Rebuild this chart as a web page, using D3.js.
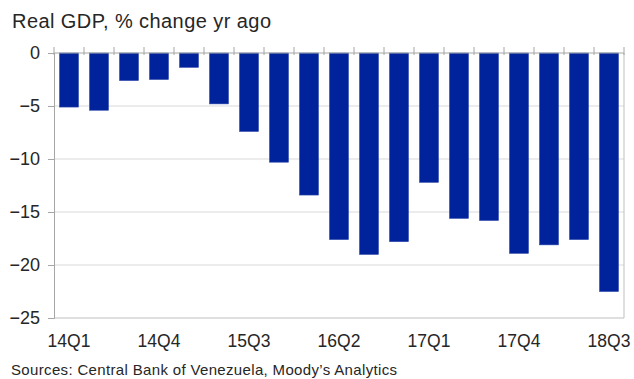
<!DOCTYPE html>
<html><head><meta charset="utf-8">
<script src="https://cdn.jsdelivr.net/npm/d3@7"></script>
<style>
html,body{margin:0;padding:0;background:#fff;}
svg{display:block;font-family:"Liberation Sans",Arial,sans-serif;}
</style></head>
<body>
<svg id="c" width="634" height="379"></svg>
<script>
const quarters = ["14Q1","14Q2","14Q3","14Q4","15Q1","15Q2","15Q3","15Q4","16Q1","16Q2","16Q3","16Q4","17Q1","17Q2","17Q3","17Q4","18Q1","18Q2","18Q3"];
const gdpChange = [-5.1,-5.4,-2.6,-2.5,-1.35,-4.8,-7.4,-10.3,-13.4,-17.6,-19.0,-17.8,-12.2,-15.6,-15.8,-18.9,-18.1,-17.6,-22.5];
const xTickLabels = ["14Q1","14Q4","15Q3","16Q2","17Q1","17Q4","18Q3"];
const yTicks = [0,-5,-10,-15,-20,-25];
const titleText = "Real GDP, % change yr ago";
const sourceText = "Sources: Central Bank of Venezuela,  Moody\u2019s Analytics";

const svg = d3.select("#c");
const L = 54, R = 624, T = 53, B = 318;
const x = d3.scaleBand().domain(quarters).range([L, R]).paddingInner(0.37).paddingOuter(0.185);
const y = d3.scaleLinear().domain([-25, 0]).range([B, T]);

// gridlines
svg.append("g").selectAll("line").data(yTicks.filter(v => v !== 0 && v !== -25)).join("line")
  .attr("x1", L).attr("x2", R).attr("y1", d => y(d)).attr("y2", d => y(d))
  .attr("stroke", "#d9d9d9").attr("stroke-width", 1);

// bars
svg.append("g").selectAll("rect").data(quarters).join("rect")
  .attr("x", (q) => x(q))
  .attr("width", x.bandwidth())
  .attr("y", y(0))
  .attr("height", (q, i) => y(gdpChange[i]) - y(0))
  .attr("fill", "#00239b")
  .attr("stroke", "#2a45a8").attr("stroke-width", 0.6);

// plot border (bottom, right)
svg.append("line").attr("x1", L).attr("x2", R).attr("y1", B).attr("y2", B).attr("stroke", "#bfbfbf");
svg.append("line").attr("x1", R).attr("x2", R).attr("y1", T).attr("y2", B).attr("stroke", "#bfbfbf");

// y axis
const yAxis = d3.axisLeft(y).tickValues(yTicks).tickSize(6).tickPadding(8).tickFormat(d3.format("d"));
const gy = svg.append("g").attr("transform", `translate(${L},0)`).call(yAxis);
gy.select(".domain").attr("stroke", "#a6a6a6");
gy.selectAll(".tick line").attr("stroke", "#a6a6a6");
gy.selectAll(".tick text").attr("font-size", 18).attr("fill", "#262626").attr("font-family", "Liberation Sans, Arial, sans-serif");

// zero line with category ticks
const gap = (x.step() - x.bandwidth()) / 2;
const bounds = quarters.map(q => x(q) - gap).concat([R]);
svg.append("line").attr("x1", L).attr("x2", R).attr("y1", y(0)).attr("y2", y(0)).attr("stroke", "#a6a6a6");
svg.append("g").selectAll("line").data(bounds).join("line")
  .attr("x1", d => d).attr("x2", d => d).attr("y1", y(0) - 6).attr("y2", y(0) + 2)
  .attr("stroke", "#a6a6a6");

// x labels
const xAxis = d3.axisBottom(x).tickValues(xTickLabels).tickSize(0).tickPadding(0);
const gx = svg.append("g").attr("transform", `translate(0,${B})`).call(xAxis);
gx.select(".domain").remove();
gx.selectAll(".tick text").attr("font-size", 17.5).attr("fill", "#262626")
  .attr("dy", null).attr("y", 29).attr("font-family", "Liberation Sans, Arial, sans-serif");

// title
svg.append("text").attr("x", 12).attr("y", 28).attr("font-size", 20).attr("fill", "#262626")
  .attr("textLength", 259).attr("lengthAdjust", "spacing").text(titleText);
// source
svg.append("text").attr("x", 11).attr("y", 375).attr("font-size", 15).attr("fill", "#262626")
  .attr("textLength", 386).attr("lengthAdjust", "spacing").text(sourceText);
</script>
</body></html>
